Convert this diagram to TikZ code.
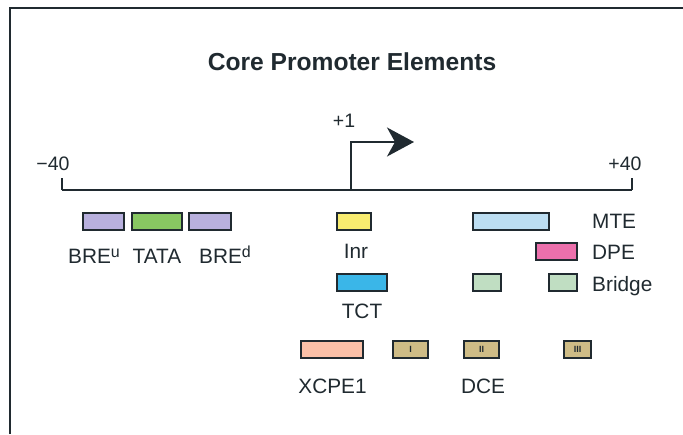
\documentclass[tikz,border=0pt]{standalone}
\usepackage{fontspec}
\setmainfont{Liberation Sans}
\usetikzlibrary{arrows.meta}
\definecolor{ink}{RGB}{32,42,48}
\definecolor{cbre}{RGB}{184,176,222}
\definecolor{ctata}{RGB}{136,200,98}
\definecolor{cinr}{RGB}{248,236,112}
\definecolor{ctct}{RGB}{58,182,232}
\definecolor{cmte}{RGB}{188,222,242}
\definecolor{cdpe}{RGB}{236,112,172}
\definecolor{cbridge}{RGB}{192,222,194}
\definecolor{cxcpe}{RGB}{250,192,168}
\definecolor{cdce}{RGB}{206,188,134}
\newcommand{\supx}[1]{\raisebox{6pt}{\fontsize{16}{16}\selectfont #1}}
\tikzset{
  box/.style={draw=ink, line width=2pt, inner sep=0pt, minimum height=17pt},
  lab/.style={text=ink, font=\fontsize{20.8}{22}\selectfont, inner sep=0pt, anchor=base},
  labw/.style={lab, anchor=base west},
  axislab/.style={text=ink, font=\fontsize{19.5}{22}\selectfont, inner sep=0pt, anchor=base},
  roman/.style={text=ink, font=\fontsize{9}{9}\bfseries\selectfont, inner sep=0pt},
  frame/.style={draw=ink, line width=2pt},
  axis/.style={draw=ink, line width=2pt},
  tick/.style={draw=ink, line width=1.2pt}
}
\begin{document}
\begin{tikzpicture}[x=1pt,y=-1pt]
\useasboundingbox (0,0) rectangle (683,434);
\fill[white] (0,0) rectangle (683,434);
% frame
\draw[frame] (10,434) -- (10,8) -- (683,8);
% title
\node[text=ink, font=\fontsize{24.6}{26}\bfseries\selectfont, inner sep=0pt, anchor=base] (title) at (352,70) {Core Promoter Elements};
% axis
\coordinate (left) at (62,190);
\coordinate (right) at (632,190);
\coordinate (tss) at (351,190);
\coordinate (corner) at (351,142);
\coordinate (tip) at (414,142);
\draw[axis] (left) -- (right);
\draw[tick] (left) -- ++(0,-12);
\draw[tick] (right) -- ++(0,-12);
\draw[axis, -{Stealth[length=27pt,width=29pt,inset=8pt]}] (tss) -- (corner) -- (tip);
\node[axislab] (m40) at (53,170) {\symbol{"2212}40};
\node[axislab] (p40) at (625,170) {+40};
\node[axislab] (p1) at (344,127) {+1};
% boxes
\node[box, fill=cbre, minimum width=41pt] (breu) at (103.5,221.5) {};
\node[box, fill=ctata, minimum width=50pt] (tata) at (157,221.5) {};
\node[box, fill=cbre, minimum width=42pt] (bred) at (210,221.5) {};
\node[box, fill=cinr, minimum width=34pt] (inr) at (354,221.5) {};
\node[box, fill=cmte, minimum width=76pt] (mte) at (511,221.5) {};
\node[box, fill=cdpe, minimum width=41pt] (dpe) at (556.5,251.5) {};
\node[box, fill=ctct, minimum width=50pt] (tct) at (362,282.5) {};
\node[box, fill=cbridge, minimum width=28pt] (bridgea) at (487,282.5) {};
\node[box, fill=cbridge, minimum width=28pt] (bridgeb) at (563,282.5) {};
\node[box, fill=cxcpe, minimum width=62pt] (xcpe) at (332,349.5) {};
\node[box, fill=cdce, minimum width=35pt] (dcea) at (410.5,349.5) {};
\node[box, fill=cdce, minimum width=35pt] (dceb) at (481.5,349.5) {};
\node[box, fill=cdce, minimum width=27pt] (dcec) at (577.5,349.5) {};
\node[roman] (ra) at (dcea) {I};
\node[roman] (rb) at (dceb) {II};
\node[roman] (rc) at (dcec) {III};
% labels
\node[lab] (lbreu) at (94,263) {BRE\supx{u}};
\node[lab] (ltata) at (157,263) {TATA};
\node[lab] (lbred) at (225,263) {BRE\supx{d}};
\node[lab] (linr) at (356,258) {Inr};
\node[lab] (ltct) at (362,318) {TCT};
\node[labw] (lmte) at (592,228) {MTE};
\node[labw] (ldpe) at (592,259) {DPE};
\node[labw] (lbridge) at (592,291) {Bridge};
\node[lab] (lxcpe) at (332.5,393) {XCPE1};
\node[lab] (ldce) at (483,393) {DCE};
\end{tikzpicture}
\end{document}
